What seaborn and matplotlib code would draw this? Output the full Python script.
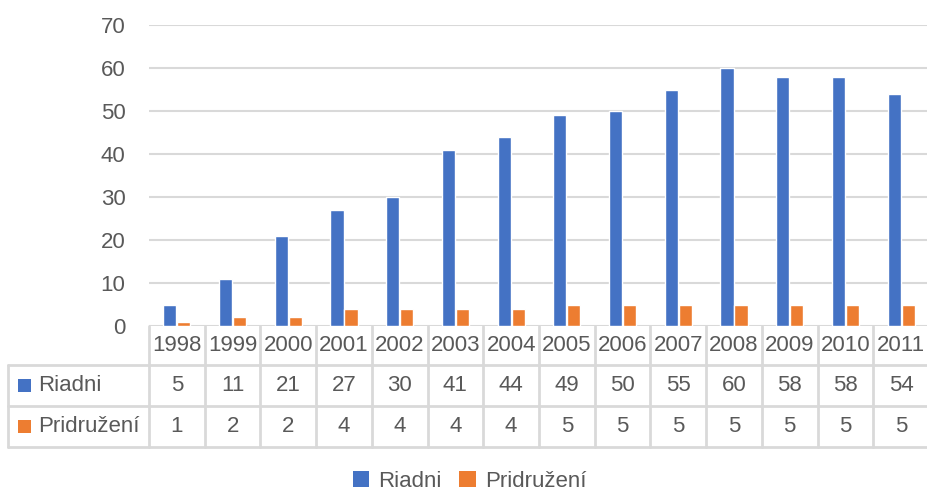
import matplotlib
matplotlib.use("Agg")
import matplotlib.pyplot as plt
import matplotlib.transforms as mtransforms
from matplotlib.patches import Patch, Rectangle
import pandas as pd
import seaborn as sns

# === Data ===
years = ["1998", "1999", "2000", "2001", "2002", "2003", "2004",
         "2005", "2006", "2007", "2008", "2009", "2010", "2011"]
riadni = [5, 11, 21, 27, 30, 41, 44, 49, 50, 55, 60, 58, 58, 54]
pridruzeni = [1, 2, 2, 4, 4, 4, 4, 5, 5, 5, 5, 5, 5, 5]
series_names = ["Riadni", "Pridružení"]
colors = ["#4472C4", "#ED7D31"]

df = pd.DataFrame({
    "year": years * 2,
    "value": riadni + pridruzeni,
    "series": [series_names[0]] * len(years) + [series_names[1]] * len(years),
})

sns.set_style("white")
plt.rcParams["font.family"] = ["Liberation Sans", "DejaVu Sans"]
text_color = "#595959"
grid_color = "#D9D9D9"

W, H = 928, 490
fig = plt.figure(figsize=(W / 100, H / 100), dpi=100)
# plot area in pixels: x 149..929, y 25..326
ax = fig.add_axes([149 / W, 1 - 326 / H, 780 / W, 301 / H])

sns.barplot(data=df, x="year", y="value", hue="series", order=years,
            hue_order=series_names, palette=colors, width=0.5, gap=0.06,
            saturation=1, legend=False, ax=ax)

ax.set_ylim(0, 70)
ax.set_xlim(-0.5, len(years) - 0.5)
ax.set_yticks(range(0, 71, 10))
ax.yaxis.grid(True, color=grid_color, linewidth=1.5)
ax.set_axisbelow(True)
for s in ax.spines.values():
    s.set_visible(False)
ax.tick_params(axis="y", length=0, pad=17, labelsize=16, labelcolor=text_color)
ax.set_xticks([])
ax.set_xlabel("")
ax.set_ylabel("")

# === Data table under the chart ===
trans = mtransforms.blended_transform_factory(ax.transData, ax.transAxes)
px = 1 / 301.0
cw = 55.71  # pixels per category
row_edges = [0, -39 * px, -80 * px, -121 * px]
left_x = -0.5 - 141 / cw
line_kw = dict(color=grid_color, linewidth=2, transform=trans, clip_on=False)

for i in range(len(years) + 1):
    ax.plot([i - 0.5, i - 0.5], [row_edges[0], row_edges[3]], **line_kw)
ax.plot([left_x, left_x], [row_edges[1], row_edges[3]], **line_kw)
for y in row_edges[1:]:
    ax.plot([left_x, len(years) - 0.5], [y, y], **line_kw)

fs = 16
for i, yr in enumerate(years):
    ymid = (row_edges[0] + row_edges[1]) / 2
    ax.text(i, ymid, yr, ha="center", va="center", fontsize=fs,
            color=text_color, transform=trans, clip_on=False)
    for r, vals in enumerate([riadni, pridruzeni]):
        ymid = (row_edges[r + 1] + row_edges[r + 2]) / 2
        ax.text(i, ymid, str(vals[i]), ha="center", va="center", fontsize=fs,
                color=text_color, transform=trans, clip_on=False)

for r, name in enumerate(series_names):
    ymid = (row_edges[r + 1] + row_edges[r + 2]) / 2
    ax.add_patch(Rectangle((left_x + 10 / cw, ymid - 6.5 * px), 13 / cw, 13 * px,
                           facecolor=colors[r], edgecolor="none",
                           transform=trans, clip_on=False))
    ax.text(left_x + 30 / cw, ymid, name, ha="left", va="center",
            fontsize=fs, color=text_color, transform=trans, clip_on=False)

# === Legend ===
handles = [Patch(facecolor=c, edgecolor="none") for c in colors]
fig.legend(handles, series_names, loc="center", bbox_to_anchor=(0.506, 1 - 481 / H),
           ncol=2, frameon=False, fontsize=fs, labelcolor=text_color,
           handlelength=0.75, handleheight=0.75, handletextpad=0.4,
           columnspacing=0.8)

plt.savefig("out.png", dpi=100)
